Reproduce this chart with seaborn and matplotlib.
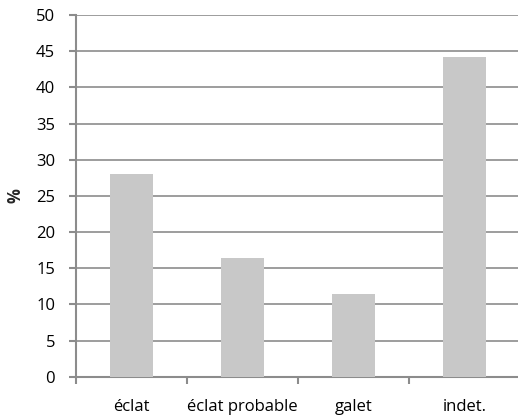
import matplotlib
matplotlib.use('Agg')
import matplotlib.pyplot as plt
import pandas as pd
import seaborn as sns

sns.set_style('white')
plt.rcParams['font.family'] = ['Open Sans', 'DejaVu Sans']

categories = ['éclat', 'éclat probable', 'galet', 'indet.']
percent = [28.0, 16.4, 11.4, 44.2]
y_ticks = [0, 5, 10, 15, 20, 25, 30, 35, 40, 45, 50]

df = pd.DataFrame({'categorie': categories, 'pct': percent})

fig = plt.figure(figsize=(5.18, 4.16), dpi=100)
ax = fig.add_axes([76 / 518, 39.3 / 416, 444 / 518, 361.7 / 416])

sns.barplot(data=df, x='categorie', y='pct', color='#c8c8c8',
            saturation=1, width=0.39, linewidth=0, ax=ax, zorder=3)

ax.set_ylim(0, 50)
ax.set_xlim(-0.5, 3.5)
ax.set_yticks(y_ticks)
ax.grid(axis='y', color='#8c8c8c', linewidth=1.2, zorder=0)
ax.set_axisbelow(True)

for side in ['top', 'right']:
    ax.spines[side].set_visible(False)
for side in ['left', 'bottom']:
    ax.spines[side].set_color('#8c8c8c')
    ax.spines[side].set_linewidth(1.5)

# category ticks sit between the bars, labels in the middle
ax.set_xticks([-0.5, 0.5, 1.5, 2.5])
ax.set_xticklabels([])
ax.set_xticks(range(len(categories)), minor=True)
ax.set_xticklabels(categories, minor=True, fontsize=12, color='black')
ax.tick_params(axis='x', which='major', length=5, width=1.5, color='#8c8c8c',
               direction='out', bottom=True)
ax.tick_params(axis='x', which='minor', length=0, pad=16)
ax.tick_params(axis='y', length=5, width=1.5, color='#8c8c8c',
               direction='out', left=True, labelsize=12, labelcolor='black',
               pad=10)

ax.set_xlabel('')
ax.set_ylabel('%', fontweight='bold', fontsize=12, labelpad=8)

fig.savefig('out.png', dpi=100)
